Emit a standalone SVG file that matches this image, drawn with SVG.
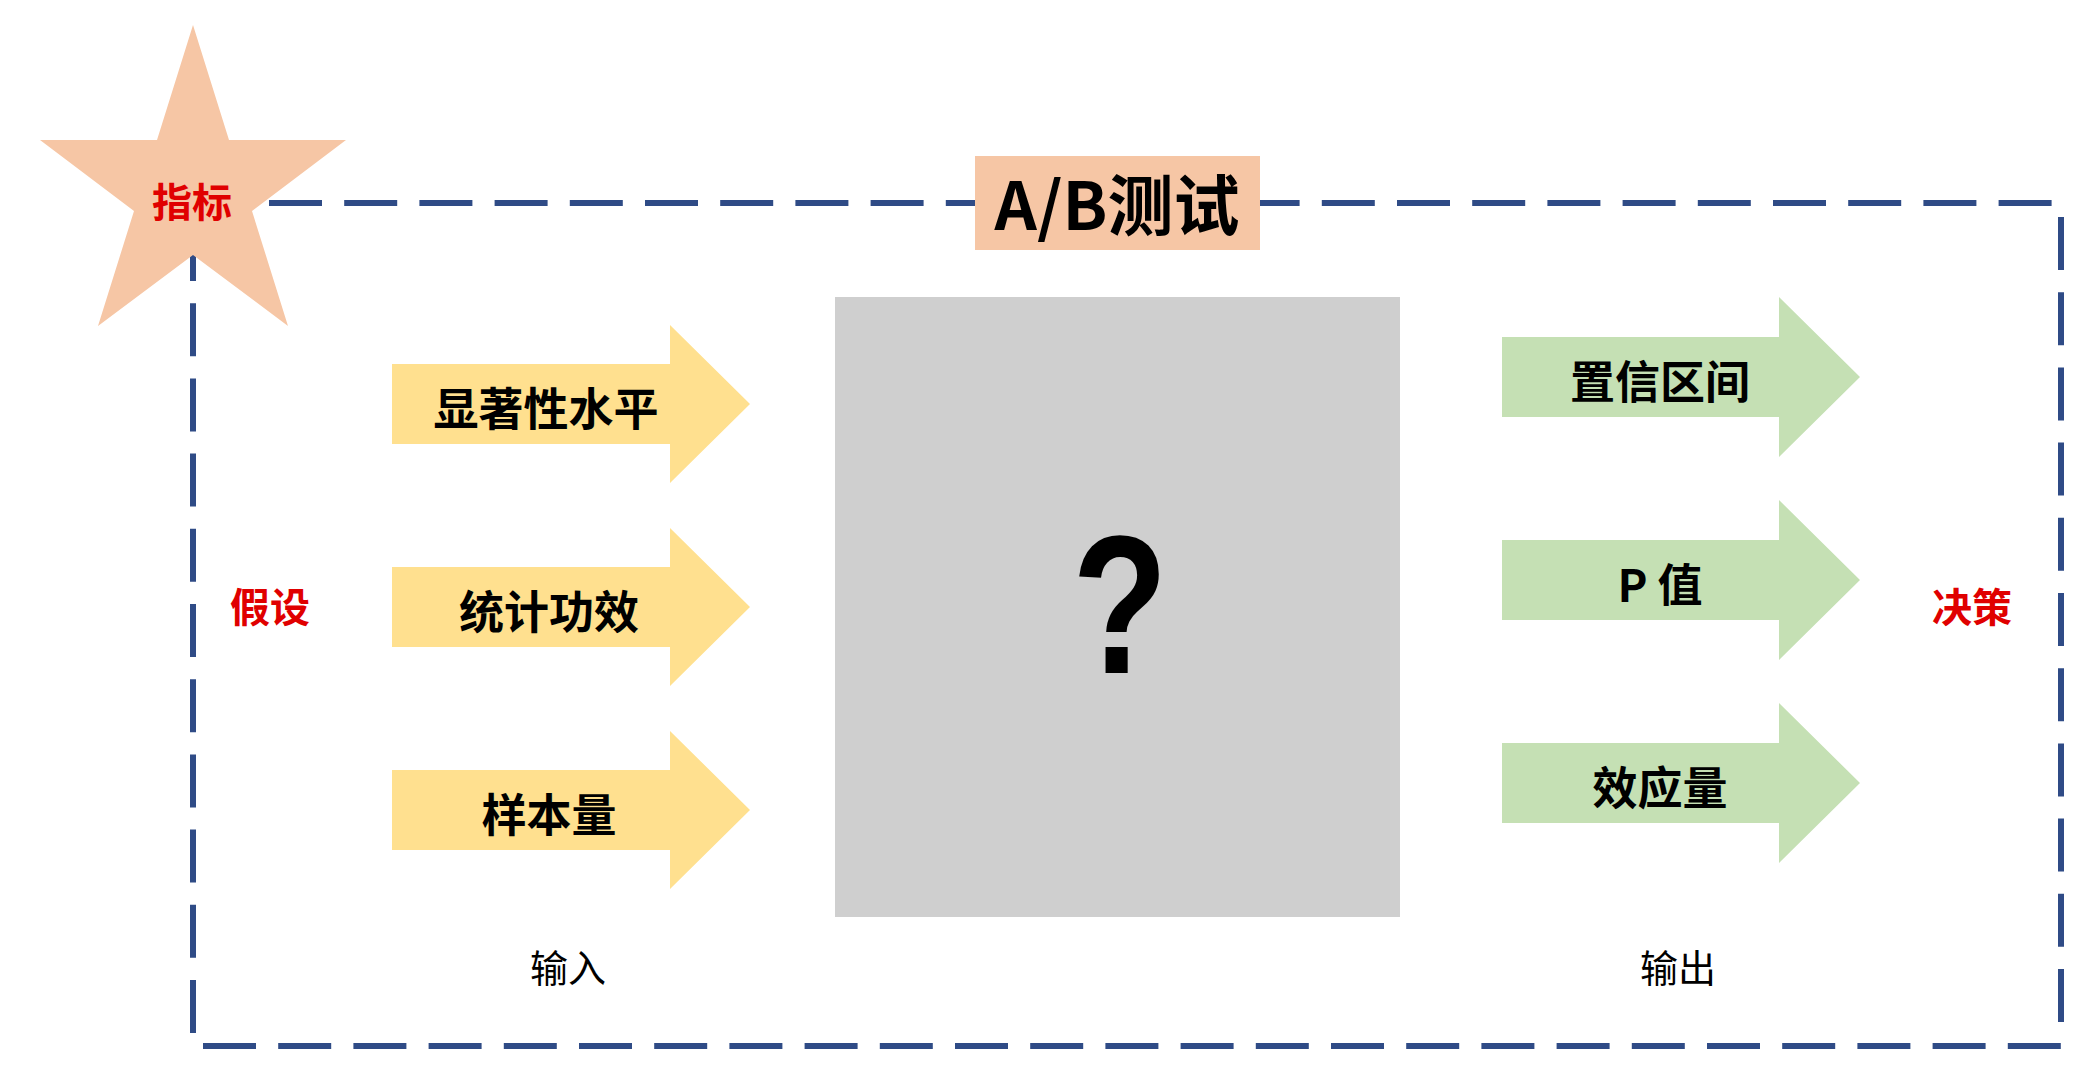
<svg xmlns="http://www.w3.org/2000/svg" width="2096" height="1075" viewBox="0 0 2096 1075">
  <defs>
    <style>
      .frame { fill: none; stroke: #2F4B86; stroke-width: 6; stroke-dasharray: 53 22.2; }
      .yarrow { fill: #FFE08F; }
      .garrow { fill: #C5E0B4; }
      .peach { fill: #F6C6A5; }
      .t { font-family: "Noto Sans CJK SC", "Noto Sans", sans-serif; text-anchor: middle; dominant-baseline: central; }
      .lbl { font-size: 45px; font-weight: bold; fill: #000; }
      .red { font-size: 40px; font-weight: bold; fill: #E00000; }
      .io { font-size: 38px; font-weight: normal; fill: #000; }
    </style>
  </defs>
  <rect width="2096" height="1075" fill="#FFFFFF"/>

  <g id="connectors">
    <path class="frame" d="M269 203 H2056"/>
    <path class="frame" d="M2061 217 V1030"/>
    <path class="frame" d="M203 1046 H2065"/>
    <path class="frame" d="M193 1033 V200"/>
  </g>

  <g id="metric">
    <polygon class="peach" points="193,25 229,140 346,140 252,211 288,326 193,255 98,326 134,211 40,140 157,140"/>
    <text class="t red" x="192" y="200">指标</text>
  </g>

  <g id="title">
    <rect class="peach" x="975" y="156" width="285" height="94"/>
    <text class="t" x="1117" y="201" font-size="66" font-weight="bold" fill="#000">A/B测试</text>
  </g>

  <g id="hypothesis">
    <text class="t red" x="270" y="605">假设</text>
  </g>
  <g id="decision">
    <text class="t red" x="1972" y="605">决策</text>
  </g>

  <g id="in-significance">
    <polygon class="yarrow" points="392,364 670,364 670,325 750,404 670,483 670,444 392,444"/>
    <text class="t lbl" x="546" y="406">显著性水平</text>
  </g>
  <g id="in-power">
    <polygon class="yarrow" points="392,567 670,567 670,528 750,607 670,686 670,647 392,647"/>
    <text class="t lbl" x="549" y="609">统计功效</text>
  </g>
  <g id="in-sample">
    <polygon class="yarrow" points="392,770 670,770 670,731 750,810 670,889 670,850 392,850"/>
    <text class="t lbl" x="549" y="812">样本量</text>
  </g>

  <g id="blackbox">
    <rect x="835" y="297" width="565" height="620" fill="#CFCFCF"/>
    <text transform="translate(1120 673) scale(0.8 1)" font-family="Liberation Sans, Arial, sans-serif" font-size="196" font-weight="bold" text-anchor="middle" fill="#000">?</text>
  </g>

  <g id="out-ci">
    <polygon class="garrow" points="1502,337 1779,337 1779,297 1860,377 1779,457 1779,417 1502,417"/>
    <text class="t lbl" x="1660" y="379">置信区间</text>
  </g>
  <g id="out-p">
    <polygon class="garrow" points="1502,540 1779,540 1779,500 1860,580 1779,660 1779,620 1502,620"/>
    <text class="t lbl" x="1660" y="582">P 值</text>
  </g>
  <g id="out-effect">
    <polygon class="garrow" points="1502,743 1779,743 1779,703 1860,783 1779,863 1779,823 1502,823"/>
    <text class="t lbl" x="1660" y="785">效应量</text>
  </g>

  <g id="label-input">
    <text class="t io" x="568" y="965">输入</text>
  </g>
  <g id="label-output">
    <text class="t io" x="1678" y="965">输出</text>
  </g>
</svg>
